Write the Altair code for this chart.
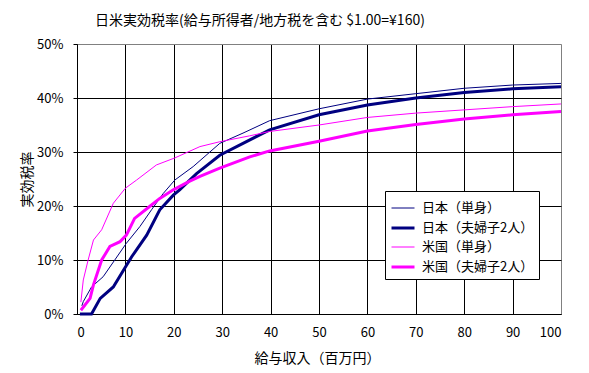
import altair as alt
import pandas as pd

series_names = ["日本（単身）", "日本（夫婦子2人）", "米国（単身）", "米国（夫婦子2人）"]
series_colors = ["#000080", "#000080", "#FF00FF", "#FF00FF"]
series_widths = [1, 3, 1, 3]

jp_single_x = [1.0, 1.3, 3.0, 5.4, 7.8, 10.2, 13.0, 15.4, 17.8, 20.2, 24.0, 29.5, 34.3, 39.8, 50, 60, 70, 80, 90, 100]
jp_single_y = [1.5, 2.3, 5.0, 6.9, 10.0, 13.1, 16.2, 19.3, 22.3, 24.8, 27.3, 31.6, 33.5, 35.8, 38.0, 39.8, 40.8, 41.8, 42.4, 42.7]

jp_couple_x = [0.6, 3.0, 4.8, 7.5, 9.6, 11.3, 14.4, 17.1, 19.9, 21.2, 24.7, 29.5, 34.3, 39.8, 50, 60, 70, 80, 90, 100]
jp_couple_y = [0.0, 0.0, 2.9, 5.0, 8.1, 10.6, 14.6, 19.3, 22.0, 23.0, 26.0, 29.4, 31.6, 34.1, 36.9, 38.7, 40.0, 41.0, 41.7, 42.1]

us_single_x = [0.8, 1.3, 2.3, 3.4, 5.1, 7.5, 10.0, 12.3, 16.4, 20.2, 25.4, 29.5, 35.7, 39.8, 50, 60, 70, 80, 90, 100]
us_single_y = [2.2, 6.3, 10.0, 13.7, 15.6, 20.5, 23.3, 24.8, 27.6, 28.9, 31.0, 31.9, 33.0, 33.8, 35.0, 36.4, 37.2, 37.8, 38.4, 38.9]

us_couple_x = [0.8, 2.7, 3.4, 5.1, 6.8, 8.9, 10.2, 11.9, 15.0, 17.1, 19.9, 23.3, 25.4, 29.5, 35.7, 39.8, 50, 60, 70, 80, 90, 100]
us_couple_y = [0.7, 2.9, 5.4, 10.0, 12.5, 13.4, 14.6, 17.7, 19.9, 21.4, 23.0, 24.6, 25.5, 27.0, 29.1, 30.2, 32.0, 33.9, 35.1, 36.1, 36.9, 37.5]

rows = []
for name, xs, ys in [
    (series_names[0], jp_single_x, jp_single_y),
    (series_names[1], jp_couple_x, jp_couple_y),
    (series_names[2], us_single_x, us_single_y),
    (series_names[3], us_couple_x, us_couple_y),
]:
    for i, (x, y) in enumerate(zip(xs, ys)):
        rows.append({"series": name, "x": x, "y": y / 100.0, "order": i})
df = pd.DataFrame(rows)

FONT = "Noto Sans CJK JP"

legend_opts = dict(title=None, orient="none", legendX=308, legendY=147,
                   symbolType="stroke", symbolSize=529,
                   labelFont=FONT, labelFontSize=13, labelColor="black",
                   strokeColor="black", fillColor="white",
                   padding=5, rowPadding=-5, labelOffset=6)

chart = alt.Chart(df).mark_line(interpolate="linear").encode(
    x=alt.X("x:Q",
            scale=alt.Scale(domain=[0, 100], nice=False),
            axis=alt.Axis(values=list(range(0, 101, 10)), title="給与収入（百万円）",
                          ticks=False, labelPadding=12, labelFontSize=13,
                          labelColor="black", labelFont=FONT,
                          domainColor="black", grid=True,
                          gridColor={"condition": {"test": "datum.value == 100", "value": "#808080"}, "value": "black"},
                          gridOpacity=1, titleFont=FONT, titleFontSize=14,
                          titleFontWeight="normal", titleColor="black",
                          titleX=240, titleY=44, titleBaseline="middle")),
    y=alt.Y("y:Q",
            scale=alt.Scale(domain=[0, 0.5], nice=False),
            axis=alt.Axis(values=[0, 0.1, 0.2, 0.3, 0.4, 0.5], format=".0%",
                          title="実効税率", tickSize=4, tickColor="black",
                          labelPadding=10, labelFontSize=13, labelColor="black",
                          labelFont=FONT, domainColor="black", grid=True,
                          gridColor={"condition": {"test": "datum.value >= 0.5", "value": "#808080"}, "value": "black"},
                          gridOpacity=1, titleFont=FONT, titleFontSize=14,
                          titleFontWeight="normal", titleColor="black",
                          titleAngle=-90, titleX=-50, titleY=135,
                          titleAlign="center", titleBaseline="middle")),
    color=alt.Color("series:N",
                    scale=alt.Scale(domain=series_names, range=series_colors),
                    legend=alt.Legend(**legend_opts)),
    strokeWidth=alt.StrokeWidth("series:N",
                                scale=alt.Scale(type="ordinal", domain=series_names, range=series_widths),
                                legend=alt.Legend(**legend_opts)),
    order="order:Q",
).properties(
    width=484, height=270,
    title=alt.TitleParams("日米実効税率(給与所得者/地方税を含む $1.00=¥160)",
                          anchor="start", frame="group", dx=18, offset=10, font=FONT, fontSize=14,
                          fontWeight="normal", color="black"),
    autosize=alt.AutoSizeParams(type="none"),
    padding={"left": 69, "top": 36, "right": 20, "bottom": 55},
).configure_view(stroke="#808080", strokeWidth=1).configure(background="white")

chart.save("out.html", embed_options={"renderer": "svg", "actions": False})
